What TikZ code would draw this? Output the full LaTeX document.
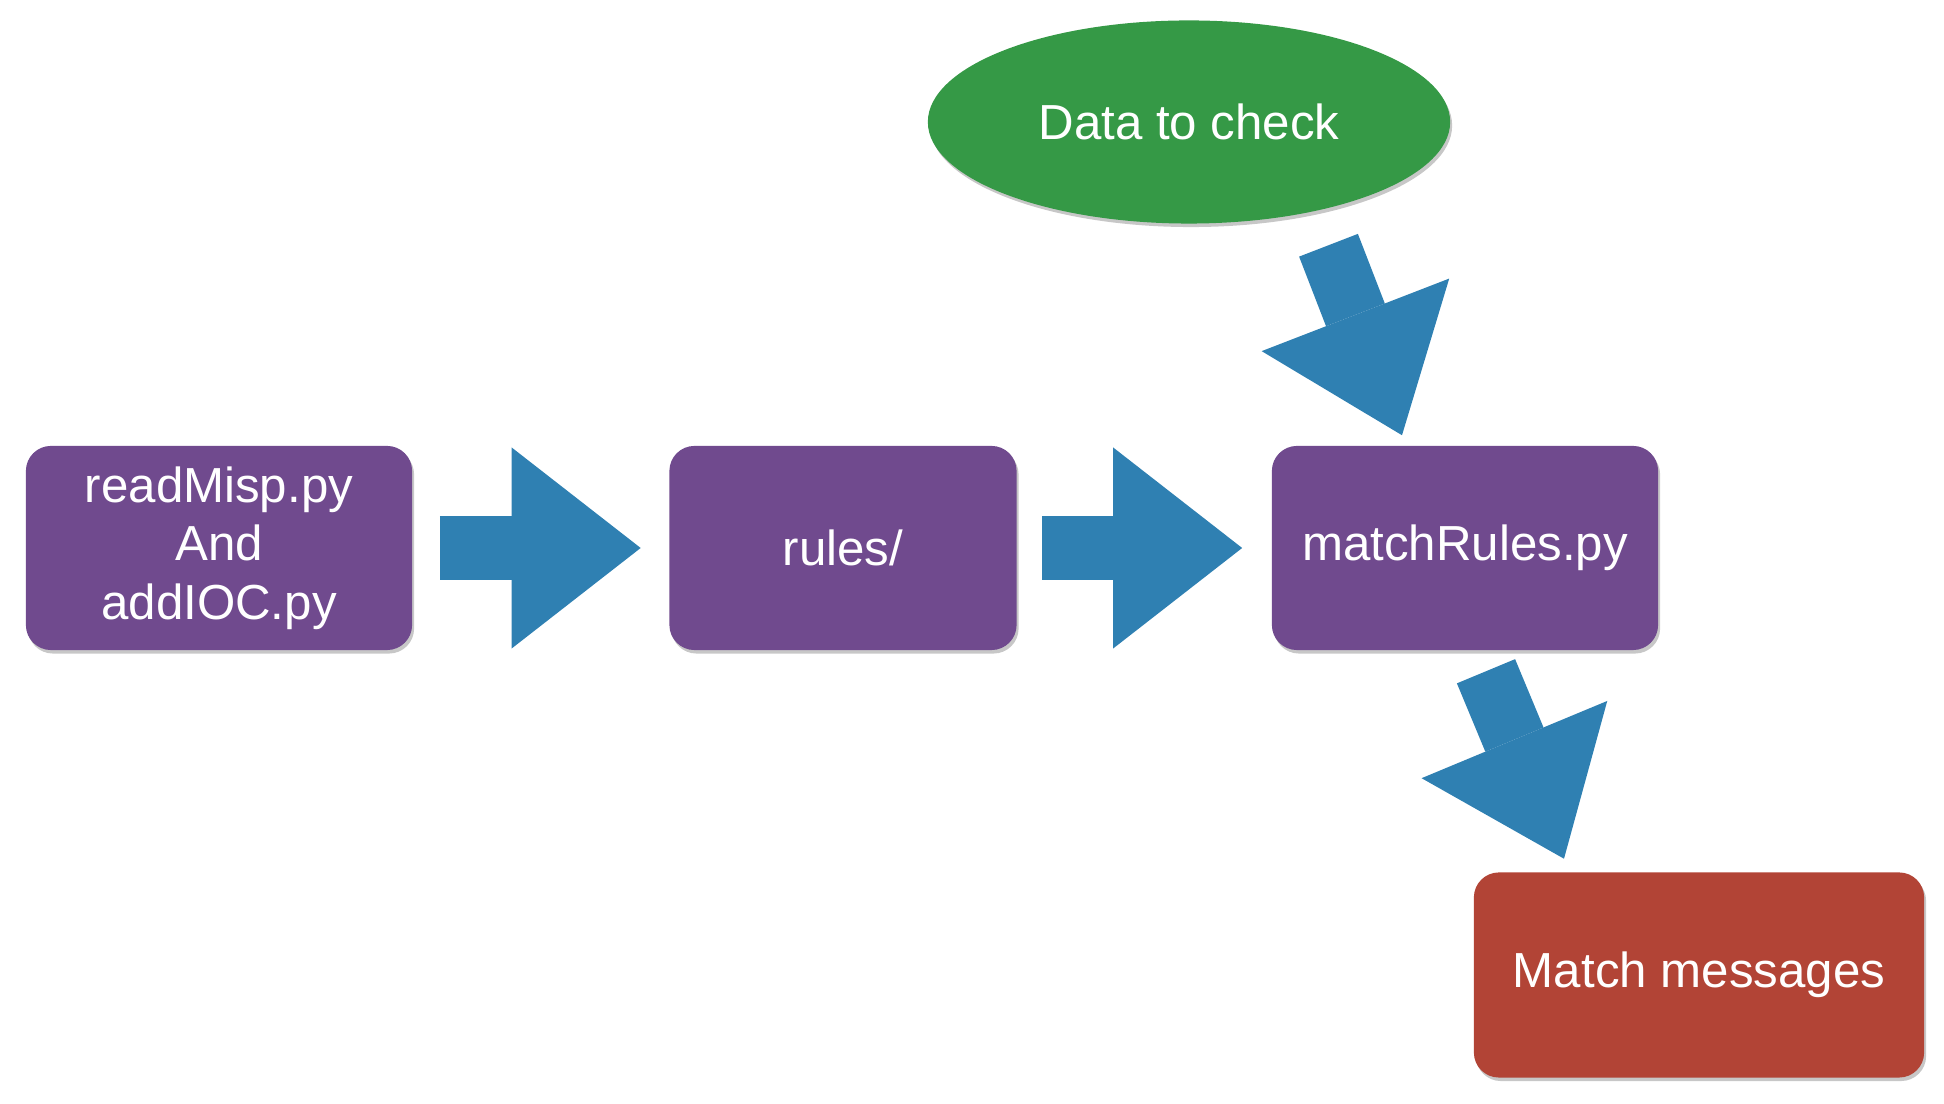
\documentclass[tikz,border=0pt]{standalone}
\usepackage{fontspec}
\setmainfont{Liberation Sans}
\usepackage{tikz}
\usetikzlibrary{arrows.meta, calc, shapes.geometric, shadows}
\definecolor{nicepurple}{RGB}{112, 74, 142}
\definecolor{niceblue}{RGB}{47, 128, 178}
\definecolor{nicegreen}{RGB}{53, 153, 70}
\definecolor{nicered}{RGB}{178, 68, 54}
\begin{document}
\begin{tikzpicture}[x = 0.01cm, y = -0.01cm,
	txt/.style = {text = white, align = center, inner sep = 0pt, font = \fontsize{14}{16.6}\selectfont},
	softshadow/.style = {drop shadow = {shadow xshift = 0.02cm, shadow yshift = -0.035cm, opacity = 0.22, fill = black}},
	box/.style = {txt, softshadow, rounded corners = 0.25cm, minimum height = 2.04cm},
	flow/.style = {draw = niceblue, line width = 0.63cm, -{Triangle[length = 1.29cm, width = 2.01cm, line width = 0pt]}}]
			\useasboundingbox (0,0) rectangle (1944,1104);
			\node (read) at (219,548) [box, fill = nicepurple, minimum width = 3.86cm] {readMisp.py\\And\\addIOC.py};
			\node (rules) at (843,548) [box, fill = nicepurple, minimum width = 3.47cm] {rules/};
			\node (match) at (1465,548) [box, fill = nicepurple, minimum width = 3.86cm] {matchRules.py};
			\node (data) at (1189,122) [txt, softshadow, ellipse, fill = nicegreen, minimum width = 5.22cm, minimum height = 2.03cm] {Data to check};
			\node (msg) at (1699,975) [box, fill = nicered, minimum width = 4.5cm, minimum height = 2.05cm] {Match messages};
			\draw[flow, shorten <= 0.27cm, shorten >= 0.28cm] (read) -- (rules);
			\draw[flow, shorten <= 0.25cm, shorten >= 0.29cm] (rules) -- (match);
			\draw[flow] ($(data.south)+(139.5,21)$) -- ($(match.north)+(-63,-10)$);
			\draw[flow] ($(match.south)+(21,20.5)$) -- ($(msg.north)+(-135,-13)$);
\end{tikzpicture}
\end{document}
